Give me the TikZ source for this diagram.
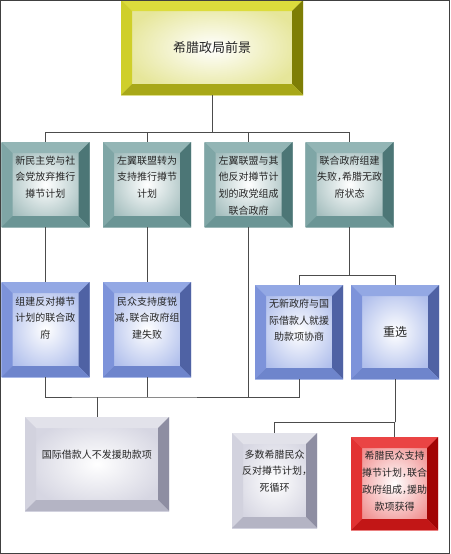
\documentclass[tikz,border=0pt]{standalone}
\usepackage{fontspec}
\newfontfamily\cjk{Noto Sans CJK SC}
\usepackage{tikz}
\definecolor{ylwT}{HTML}{DCDC3C}\definecolor{ylwL}{HTML}{CFCF2A}
\definecolor{ylwR}{HTML}{7E7E05}\definecolor{ylwB}{HTML}{A8A818}
\definecolor{ylwI}{HTML}{E6E69A}
\definecolor{tealT}{HTML}{93B5B5}\definecolor{tealL}{HTML}{7FA6A6}
\definecolor{tealR}{HTML}{4C7676}\definecolor{tealB}{HTML}{6B9595}
\definecolor{tealI}{HTML}{A3BDBD}
\definecolor{bluT}{HTML}{93A8E4}\definecolor{bluL}{HTML}{7D93DA}
\definecolor{bluR}{HTML}{4F62A4}\definecolor{bluB}{HTML}{6E85CC}
\definecolor{bluI}{HTML}{B0BFEC}
\definecolor{gryT}{HTML}{E2E2EA}\definecolor{gryL}{HTML}{D2D2DE}
\definecolor{gryR}{HTML}{8E8EA2}\definecolor{gryB}{HTML}{B4B4C4}
\definecolor{gryI}{HTML}{D6D6E2}
\definecolor{redT}{HTML}{EA4444}\definecolor{redL}{HTML}{E23232}
\definecolor{redR}{HTML}{A20404}\definecolor{redB}{HTML}{C21616}
\definecolor{redI}{HTML}{F09090}
\def\bw{11}
\newcommand\narrowcomma{\makebox[5pt][l]{，}}
\tikzset{
  bevel/.style={inner color=white, outer color=#1I,
    path picture={
      \coordinate (nw) at (path picture bounding box.north west);
      \coordinate (ne) at (path picture bounding box.north east);
      \coordinate (sw) at (path picture bounding box.south west);
      \coordinate (se) at (path picture bounding box.south east);
      \fill[#1T] (nw) -- (ne) -- ([shift={(-\bw,-\bw)}]ne) -- ([shift={(\bw,-\bw)}]nw) -- cycle;
      \fill[#1L] (nw) -- (sw) -- ([shift={(\bw,\bw)}]sw) -- ([shift={(\bw,-\bw)}]nw) -- cycle;
      \fill[#1R] (ne) -- (se) -- ([shift={(-\bw,\bw)}]se) -- ([shift={(-\bw,-\bw)}]ne) -- cycle;
      \fill[#1B] (sw) -- (se) -- ([shift={(-\bw,\bw)}]se) -- ([shift={(\bw,\bw)}]sw) -- cycle;
    }},
  box/.style={align=center, text=black!85, font=\cjk\fontsize{10}{16.7}\selectfont},
  link/.style={draw=black!70, line width=0.7pt}
}
\begin{document}
\begin{tikzpicture}[x=1pt,y=1pt]
\tikzstyle{every node}+=[inner sep=0pt]
\useasboundingbox (0,0) rectangle (450,-554);
\node [box, bevel=ylw, text width=182pt, text height=52pt, text depth=43pt,
  font=\cjk\fontsize{13}{16}\selectfont] (top) at (212,-47.5) {希腊政局前景};
\node [box, bevel=teal, text width=88pt, text height=22pt, text depth=63pt] (r1a) at (45.5,-184.5)
  {新民主党与社\\会党放弃推行\\撙节计划};
\node [box, bevel=teal, text width=88pt, text height=22pt, text depth=63pt] (r1b) at (147,-184.5)
  {左翼联盟转为\\支持推行撙节\\计划};
\node [box, bevel=teal, text width=88pt, text height=22pt, text depth=63pt] (r1c) at (248.5,-184.5)
  {左翼联盟与其\\他反对撙节计\\划的政党组成\\联合政府};
\node [box, bevel=teal, text width=88pt, text height=22pt, text depth=63pt] (r1d) at (349.5,-184.5)
  {联合政府组建\\失败\narrowcomma 希腊无政\\府状态};
\node [box, bevel=blu, text width=88pt, text height=23pt, text depth=72pt] (r2a) at (45.5,-329.5)
  {组建反对撙节\\计划的联合政\\府};
\node [box, bevel=blu, text width=88pt, text height=23pt, text depth=72pt] (r2b) at (147,-329.5)
  {民众支持度锐\\减\narrowcomma 联合政府组\\建失败};
\node [box, bevel=blu, text width=88pt, text height=22.3pt, text depth=71.7pt] (r2c) at (299,-332)
  {无新政府与国\\际借款人就援\\助款项协商};
\node [box, bevel=blu, text width=88pt, text height=51.5pt, text depth=42.5pt,
  font=\cjk\fontsize{12}{16}\selectfont] (r2d) at (395,-332) {重选};
\node [box, bevel=gry, text width=144pt, text height=41pt, text depth=53pt] (r3a) at (97,-464)
  {国际借款人不发援助款项};
\node [box, bevel=gry, text width=85pt, text height=25pt, text depth=70pt] (r3b) at (274.5,-480.5)
  {多数希腊民众\\反对撙节计划\narrowcomma\\死循环};
\node [box, bevel=red, text width=87pt, text height=22pt, text depth=71pt,
  font=\cjk\fontsize{10}{17.3}\selectfont] (r3c) at (394.5,-483.5)
  {希腊民众支持\\撙节计划\narrowcomma 联合\\政府组成\narrowcomma 援助\\款项获得};
\draw [link] (top.south) -- ++(0,-37) coordinate (jt);
\draw [link] (r1a.north) |- (jt) -| (r1d.north);
\draw [link] (r1b.north) -- (r1b.north |- jt);
\draw [link] (r1c.north) -- (r1c.north |- jt);
\draw [link] (r1a.south) -- (r2a.north);
\draw [link] (r1b.south) -- (r2b.north);
\draw [link] (r1d.south) -- ++(0,-48) coordinate (jd);
\draw [link] (r2c.north) |- (jd) -| (r2d.north);
\coordinate (jb) at (97,-397);
\draw [link] (r2a.south) |- (jb) -| (r2c.south);
\draw [link] (r2b.south) -- (r2b.south |- jb);
\draw [link] (r1c.south) -- (r1c.south |- jb);
\draw [link] (jb) -- (r3a.north);
\draw [link] (r2d.south) -- ++(0,-43) coordinate (jr);
\draw [link] (r3b.north) |- (jr) -| (r3c.north);
\draw [draw=black!75, line width=1pt] (0.5,-0.5) rectangle (449.5,-553.5);
\end{tikzpicture}
\end{document}
